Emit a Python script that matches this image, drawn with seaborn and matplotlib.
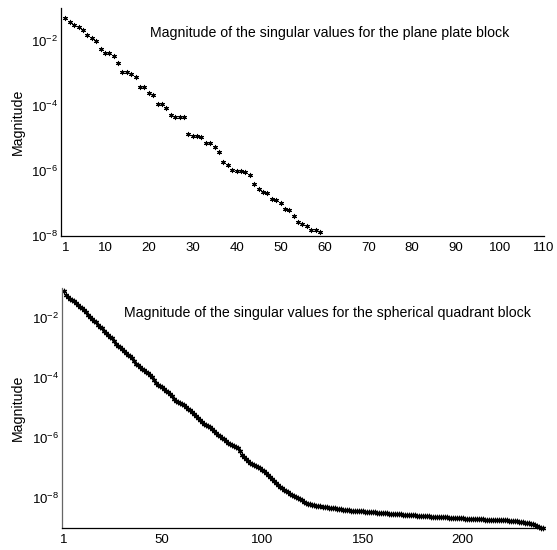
'''
Singular value decay for two boundary element blocks
'''
import numpy as np
import pandas as pd
import matplotlib
matplotlib.use('Agg')
import matplotlib.pyplot as plt
import seaborn as sns

# log10 of the singular values
plate_log = [-1.31, -1.43, -1.52, -1.59, -1.67, -1.82, -1.91, -2.01, -2.26, -2.37,
             -2.37, -2.47, -2.68, -2.98, -2.98, -3.02, -3.11, -3.42, -3.42, -3.62,
             -3.66, -3.95, -3.95, -4.06, -4.29, -4.36, -4.36, -4.36, -4.87, -4.93,
             -4.93, -4.97, -5.16, -5.16, -5.26, -5.42, -5.72, -5.82, -5.96, -6.00,
             -6.00, -6.04, -6.13, -6.39, -6.57, -6.65, -6.68, -6.88, -6.90, -7.00,
             -7.16, -7.19, -7.39, -7.57, -7.62, -7.70, -7.82, -7.82, -7.88]

sphere_log = [-1.10, -1.24, -1.30, -1.35, -1.40, -1.44, -1.50, -1.56, -1.62, -1.67,
              -1.73, -1.80, -1.88, -1.95, -2.01, -2.08, -2.14, -2.21, -2.28, -2.34,
              -2.42, -2.50, -2.56, -2.61, -2.66, -2.76, -2.85, -2.92, -2.97, -3.04,
              -3.10, -3.16, -3.22, -3.27, -3.34, -3.44, -3.52, -3.57, -3.62, -3.68,
              -3.73, -3.78, -3.84, -3.89, -3.95, -4.06, -4.16, -4.21, -4.26, -4.30,
              -4.35, -4.41, -4.47, -4.53, -4.60, -4.68, -4.76, -4.80, -4.84, -4.87,
              -4.90, -4.95, -5.01, -5.06, -5.12, -5.19, -5.26, -5.33, -5.40, -5.47,
              -5.52, -5.56, -5.60, -5.63, -5.68, -5.75, -5.83, -5.88, -5.93, -5.99,
              -6.04, -6.09, -6.15, -6.20, -6.24, -6.27, -6.29, -6.33, -6.43, -6.55,
              -6.62, -6.70, -6.77, -6.82, -6.86, -6.89, -6.92, -6.95, -6.99, -7.05,
              -7.10, -7.16, -7.23, -7.30, -7.36, -7.43, -7.50, -7.56, -7.61, -7.66,
              -7.71, -7.75, -7.80, -7.85, -7.89, -7.93, -7.96, -8.00, -8.04, -8.07,
              -8.11, -8.15, -8.18, -8.20, -8.22, -8.24, -8.25, -8.26, -8.27, -8.28,
              -8.29, -8.30, -8.31, -8.32, -8.33, -8.34, -8.35, -8.36, -8.37, -8.38,
              -8.38, -8.39, -8.40, -8.41, -8.42, -8.42, -8.43, -8.43, -8.44, -8.44,
              -8.45, -8.45, -8.46, -8.46, -8.47, -8.47, -8.48, -8.48, -8.49, -8.49,
              -8.50, -8.50, -8.51, -8.51, -8.52, -8.52, -8.53, -8.54, -8.54, -8.55,
              -8.55, -8.56, -8.56, -8.57, -8.57, -8.57, -8.58, -8.58, -8.59, -8.59,
              -8.59, -8.60, -8.60, -8.61, -8.61, -8.61, -8.62, -8.62, -8.63, -8.63,
              -8.64, -8.64, -8.65, -8.65, -8.66, -8.66, -8.66, -8.67, -8.67, -8.67,
              -8.68, -8.68, -8.68, -8.69, -8.69, -8.69, -8.70, -8.70, -8.70, -8.70,
              -8.71, -8.71, -8.71, -8.71, -8.72, -8.72, -8.72, -8.73, -8.73, -8.73,
              -8.74, -8.74, -8.75, -8.75, -8.76, -8.76, -8.77, -8.78, -8.79, -8.80,
              -8.81, -8.82, -8.84, -8.85, -8.87, -8.90, -8.93, -8.96, -8.98, -9.00]

plate_xticks = [1, 10, 20, 30, 40, 50, 60, 70, 80, 90, 100, 110]
sphere_xticks = [1, 50, 100, 150, 200]
plate_yticks = [1e-2, 1e-4, 1e-6, 1e-8]
sphere_yticks = [1e-2, 1e-4, 1e-6, 1e-8]

plate_title = 'Magnitude of the singular values for the plane plate block'
sphere_title = 'Magnitude of the singular values for the spherical quadrant block'

dfPlate = pd.DataFrame({'index': np.arange(1, len(plate_log) + 1),
                        'sv': 10.0 ** np.array(plate_log)})
dfSphere = pd.DataFrame({'index': np.arange(1, len(sphere_log) + 1),
                         'sv': 10.0 ** np.array(sphere_log)})

sns.set_style('white')
plt.rcParams['font.family'] = ['Liberation Sans', 'DejaVu Sans']
plt.rcParams['mathtext.default'] = 'regular'
plt.rcParams['text.color'] = 'black'
plt.rcParams['axes.labelcolor'] = 'black'

fig = plt.figure(figsize=(5.57, 5.5), dpi=100)
axTop = fig.add_axes([0.1095, 0.571, 0.867, 0.4145])
axBot = fig.add_axes([0.111, 0.0395, 0.864, 0.4365])

asterisk = (6, 2, 0)


def style_axis(ax, xlim, ylim, xticks, yticks, spine_col):
    ax.set_yscale('log')
    ax.set_xlim(*xlim)
    ax.set_ylim(*ylim)
    ax.set_xticks(xticks)
    ax.set_xticklabels([str(t) for t in xticks])
    ax.set_yticks(yticks)
    ax.set_yticklabels([r'$\mathregular{10^{%d}}$' % int(np.log10(t)) for t in yticks])
    ax.yaxis.set_minor_locator(matplotlib.ticker.NullLocator())
    ax.xaxis.set_minor_locator(matplotlib.ticker.NullLocator())
    for s in ['top', 'right']:
        ax.spines[s].set_visible(False)
    ax.spines['bottom'].set_color('black')
    ax.spines['left'].set_color(spine_col)
    ax.spines['bottom'].set_linewidth(0.9)
    ax.spines['left'].set_linewidth(0.9)
    ax.tick_params(axis='both', direction='in', length=4, width=0.8,
                   colors=spine_col, labelcolor='black', labelsize=9.5)
    ax.tick_params(axis='x', pad=4)
    ax.tick_params(axis='y', pad=2)
    ax.set_xlabel('')
    ax.set_ylabel('Magnitude', fontsize=10.2, color='black')


sns.scatterplot(x='index', y='sv', data=dfPlate, ax=axTop, marker=asterisk,
                color='black', s=9, linewidth=0.8, clip_on=False, legend=False)
style_axis(axTop, (0, 110), (1e-8, 1e-1), plate_xticks, plate_yticks, 'black')
axTop.yaxis.set_label_coords(-0.0745, 0.5)
axTop.text(0.184, 0.89, plate_title, transform=axTop.transAxes,
           ha='left', va='center', fontsize=10.2, color='black')

sns.scatterplot(x='index', y='sv', data=dfSphere, ax=axBot, marker=asterisk,
                color='black', s=10, linewidth=0.9, clip_on=False, legend=False)
style_axis(axBot, (0, 240), (1e-9, 1e-1), sphere_xticks, sphere_yticks, '#666666')
axBot.yaxis.set_label_coords(-0.077, 0.5)
axBot.text(0.129, 0.896, sphere_title, transform=axBot.transAxes,
           ha='left', va='center', fontsize=10.2, color='black')

fig.savefig('out.png', dpi=100)
